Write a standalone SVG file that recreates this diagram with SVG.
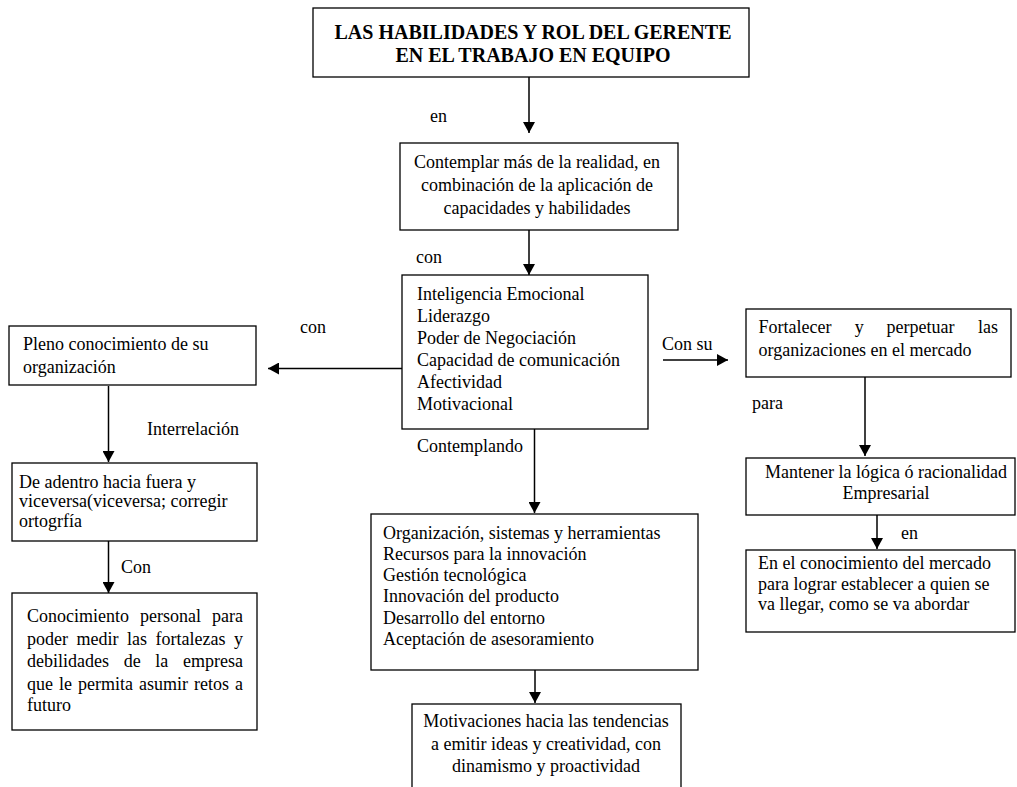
<svg xmlns="http://www.w3.org/2000/svg" width="1017" height="787" viewBox="0 0 1017 787">
<style>
.box{fill:#fff;stroke:#000;stroke-width:1.3}
.t{font-family:"Liberation Serif","Times New Roman",serif;font-size:18px;fill:#000}
.c{text-anchor:middle}
.e{text-anchor:end}
.ttl{font-weight:bold;font-size:20px}
.conn line{stroke:#000;stroke-width:1.5;marker-end:url(#ah)}
</style>
<defs>
<marker id="ah" markerUnits="userSpaceOnUse" viewBox="0 0 11 12" markerWidth="11" markerHeight="12" refX="11" refY="6" orient="auto">
<path d="M0,0 L11,6 L0,12 z" fill="#000"/>
</marker>
</defs>
<rect width="1017" height="787" fill="#fff"/>

<g id="title">
<rect class="box" x="313" y="8" width="436" height="69"/>
<text class="t ttl c" x="533" y="38.5">LAS HABILIDADES Y ROL DEL GERENTE</text>
<text class="t ttl c" x="533" y="61.5">EN EL TRABAJO EN EQUIPO</text>
</g>

<g id="contemplar">
<rect class="box" x="400" y="143" width="278" height="87"/>
<text class="t c" x="537" y="168">Contemplar más de la realidad, en</text>
<text class="t c" x="537" y="191">combinación de la aplicación de</text>
<text class="t c" x="537" y="214">capacidades y habilidades</text>
</g>

<g id="habilidades">
<rect class="box" x="402" y="275" width="246" height="154"/>
<text class="t" x="417" y="300">Inteligencia Emocional</text>
<text class="t" x="417" y="322">Liderazgo</text>
<text class="t" x="417" y="344">Poder de Negociación</text>
<text class="t" x="417" y="366">Capacidad de comunicación</text>
<text class="t" x="417" y="388">Afectividad</text>
<text class="t" x="417" y="410">Motivacional</text>
</g>

<g id="pleno">
<rect class="box" x="9" y="326" width="247" height="59"/>
<text class="t" x="23" y="350">Pleno conocimiento de su</text>
<text class="t" x="23" y="373">organización</text>
</g>

<g id="adentro">
<rect class="box" x="12" y="463" width="245" height="78"/>
<text class="t" x="19" y="487.5">De adentro hacia fuera y</text>
<text class="t" x="19" y="507">viceversa(viceversa; corregir</text>
<text class="t" x="19" y="526.5">ortogrfía</text>
</g>

<g id="conocimiento">
<rect class="box" x="12" y="593" width="245" height="137"/>
<text class="t" y="622"><tspan x="27">Conocimiento</tspan><tspan x="140">personal</tspan><tspan x="243" class="e">para</tspan></text>
<text class="t" y="644.5"><tspan x="27">poder</tspan><tspan x="76.5">medir</tspan><tspan x="127">las</tspan><tspan x="155.5">fortalezas</tspan><tspan x="243" class="e">y</tspan></text>
<text class="t" y="667"><tspan x="27">debilidades</tspan><tspan x="123.7">de</tspan><tspan x="155.3">la</tspan><tspan x="243" class="e">empresa</tspan></text>
<text class="t" y="689.5"><tspan x="27">que</tspan><tspan x="59">le</tspan><tspan x="78">permita</tspan><tspan x="139">asumir</tspan><tspan x="194">retos</tspan><tspan x="243" class="e">a</tspan></text>
<text class="t" x="27" y="711">futuro</text>
</g>

<g id="fortalecer">
<rect class="box" x="746" y="309" width="265" height="68"/>
<text class="t" y="333"><tspan x="758.5">Fortalecer</tspan><tspan x="854.7">y</tspan><tspan x="886.5">perpetuar</tspan><tspan x="998" class="e">las</tspan></text>
<text class="t" x="758.5" y="355.5">organizaciones en el mercado</text>
</g>

<g id="mantener">
<rect class="box" x="746" y="458" width="269" height="57"/>
<text class="t c" x="886" y="478">Mantener la lógica ó racionalidad</text>
<text class="t c" x="886" y="499">Empresarial</text>
</g>

<g id="mercado">
<rect class="box" x="746" y="550" width="269" height="82"/>
<text class="t" x="758" y="569">En el conocimiento del mercado</text>
<text class="t" x="758" y="589.5">para lograr establecer a quien se</text>
<text class="t" x="758" y="610">va llegar, como se va abordar</text>
</g>

<g id="organizacion">
<rect class="box" x="371" y="514" width="327" height="156"/>
<text class="t" x="383" y="538.5">Organización, sistemas y herramientas</text>
<text class="t" x="383" y="559.8">Recursos para la innovación</text>
<text class="t" x="383" y="581.1">Gestión tecnológica</text>
<text class="t" x="383" y="602.4">Innovación del producto</text>
<text class="t" x="383" y="623.7">Desarrollo del entorno</text>
<text class="t" x="383" y="645">Aceptación de asesoramiento</text>
</g>

<g id="motivaciones">
<rect class="box" x="412" y="704" width="269" height="100"/>
<text class="t c" x="546" y="727">Motivaciones hacia las tendencias</text>
<text class="t c" x="546" y="749.5">a emitir ideas y creatividad, con</text>
<text class="t c" x="546" y="772">dinamismo y proactividad</text>
</g>

<g id="connectors" class="conn">
<line x1="529" y1="77" x2="529" y2="133"/>
<line x1="529" y1="230" x2="529" y2="275"/>
<line x1="402" y1="368.5" x2="268" y2="368.5"/>
<line x1="108.5" y1="386" x2="108.5" y2="462"/>
<line x1="108.5" y1="541" x2="108.5" y2="593"/>
<line x1="663" y1="360" x2="728" y2="360"/>
<line x1="865" y1="377" x2="865" y2="456"/>
<line x1="877" y1="515" x2="877" y2="549"/>
<line x1="534.5" y1="429" x2="534.5" y2="513"/>
<line x1="535" y1="670" x2="535" y2="703"/>
</g>

<g id="labels">
<text class="t" x="430" y="122">en</text>
<text class="t" x="416" y="263">con</text>
<text class="t" x="300" y="333">con</text>
<text class="t" x="662" y="350">Con su</text>
<text class="t" x="417" y="452">Contemplando</text>
<text class="t" x="147" y="435">Interrelación</text>
<text class="t" x="121" y="573">Con</text>
<text class="t" x="752" y="409">para</text>
<text class="t" x="901" y="539">en</text>
</g>
</svg>
